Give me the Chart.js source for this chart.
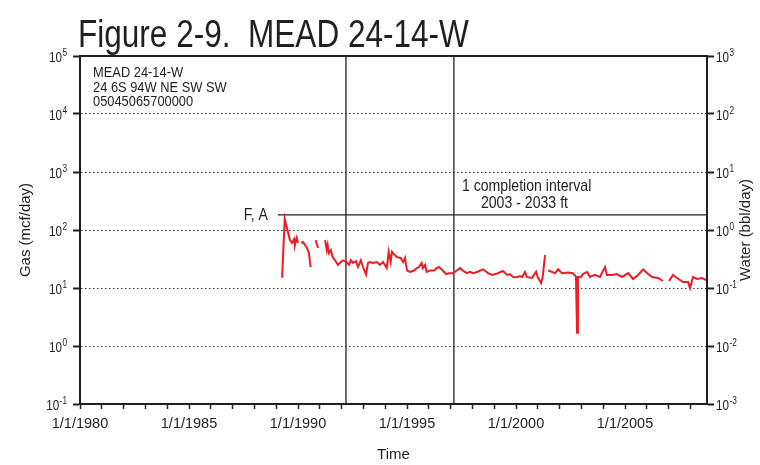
<!DOCTYPE html>
<html>
<head>
<meta charset="utf-8">
<script src="https://cdn.jsdelivr.net/npm/chart.js@4.4.1/dist/chart.umd.min.js"></script>
<style>
  html, body { margin: 0; padding: 0; background: #fff; }
</style>
</head>
<body>
<canvas id="chart" width="760" height="465"></canvas>
<script>
// gas rate (mcf/day), dates as decimal years, null = gap in record
const gasDate = [
  1989.27, 1989.39, 1989.63, 1989.72, 1989.82, 1989.86, 1989.94, 1990.00, 1990.05,
  1990.14, 1990.23, 1990.32, 1990.41, 1990.50, 1990.58, 1990.66,
  1990.81, 1990.92, 1991.05,
  1991.24, 1991.32, 1991.36, 1991.42, 1991.51, 1991.59, 1991.70, 1991.83, 1991.97,
  1992.06, 1992.23, 1992.34, 1992.42, 1992.52, 1992.66, 1992.75, 1992.88, 1992.98,
  1993.12, 1993.21, 1993.30, 1993.44, 1993.62, 1993.76, 1993.90, 1994.07, 1994.16,
  1994.25, 1994.31, 1994.44, 1994.54, 1994.71, 1994.82, 1994.91, 1995.00, 1995.14,
  1995.32, 1995.45, 1995.55, 1995.67, 1995.73, 1995.83, 1995.90, 1996.06, 1996.24,
  1996.36, 1996.47, 1996.64, 1996.79, 1996.93, 1997.11, 1997.28, 1997.43, 1997.56,
  1997.74, 1997.89, 1998.03, 1998.21, 1998.49, 1998.72, 1998.90, 1999.17, 1999.40,
  1999.59, 1999.72, 1999.86, 2000.05, 2000.18, 2000.28, 2000.41, 2000.50, 2000.73,
  2000.92, 2001.01, 2001.15, 2001.22, 2001.33, 2001.40,
  2001.47, 2001.65, 2001.79, 2001.93, 2002.11, 2002.39, 2002.61, 2002.75, 2002.80,
  2002.84, 2002.98, 2003.07, 2003.26, 2003.39, 2003.62, 2003.85, 2004.08, 2004.17,
  2004.40, 2004.63, 2004.86, 2005.14, 2005.37, 2005.60, 2005.83, 2006.06, 2006.24,
  2006.51, 2006.74, 2006.82,
  2007.02, 2007.20, 2007.39, 2007.66, 2007.89, 2007.98, 2008.12, 2008.30, 2008.53, 2008.72
];
const gasRate = [
  15, 155, 67, 60, 70, 55, 73, 60, null,
  60, 62, 55, 49, 40, 23, null,
  67, 49, null,
  67, 45, 55, 40, 45, 34, 30, 25, 28,
  30, 28, 25, 30, 27, 29, 23, 30, 23,
  17, 27, 28, 27, 28, 25, 28, 22, 42,
  28, 42, 37, 34, 33, 28, 33, 20, 19,
  20, 22, 23, 27, 22, 25, 19, 20, 20,
  22, 23, 20, 17.4, 18, 18, 20, 22, 20,
  18, 19, 18, 18.9, 21, 18, 16.8, 18, 19.6,
  16.8, 17.4, 15.5, 15.3, 16, 15.5, 18.9, 15.5, 14.9,
  19, 14.9, 12.2, 15, 37, null,
  20, 19, 18, 21, 18, 18.5, 18, 15.5, 1.7,
  15.5, 15.5, 17.4, 18.9, 15.5, 16.8, 15.5, 23, 16.8,
  16.8, 17.4, 15.5, 18.1, 14.3, 16.8, 21, 17.4, 15.5,
  14.9, 13.2, null,
  13.2, 16.8, 14.9, 12.7, 12.7, 10, 15.5, 14.3, 14.9, 13.7
];

// events
const completionDates = [1992.2, 1997.15];
const intervalStart = 1989.08;
const intervalRate = 182;

// axes
const timeMin = 1980;
const timeMax = 2008.76;
const yearTicks = [1980, 1981, 1982, 1983, 1984, 1985, 1986, 1987, 1988, 1989, 1990, 1991, 1992, 1993, 1994,
  1995, 1996, 1997, 1998, 1999, 2000, 2001, 2002, 2003, 2004, 2005, 2006, 2007, 2008];
const labelYears = [1980, 1985, 1990, 1995, 2000, 2005];
const gasTicks = [0.1, 1, 10, 100, 1000, 10000, 100000];
const waterTicks = [0.001, 0.01, 0.1, 1, 10, 100, 1000];

const wellInfo = ['MEAD 24-14-W', '24 6S 94W NE SW SW', '05045065700000'];
const intervalText = ['1 completion interval', '2003 - 2033 ft'];

const SANS = '"Liberation Sans", Arial, Helvetica, sans-serif';
const SQ = 0.83;   // horizontal squeeze to mimic the narrow face of the original
const INK = '#231f20';

function narrowText(ctx, text, x, y, size, align) {
  ctx.save();
  ctx.font = size + 'px ' + SANS;
  ctx.textAlign = align || 'left';
  ctx.translate(x, y);
  ctx.scale(SQ, 1);
  ctx.fillText(text, 0, 0);
  ctx.restore();
}

// "10" with a raised exponent, anchored left or right
function powLabel(ctx, v, x, y, align) {
  const exp = String(Math.round(Math.log10(v)));
  ctx.font = '14px ' + SANS;
  const wBase = ctx.measureText('10').width * SQ;
  ctx.font = '10px ' + SANS;
  const wExp = ctx.measureText(exp).width * SQ;
  const x0 = align === 'right' ? x - wBase - wExp - 0.5 : x;
  narrowText(ctx, '10', x0, y + 5.5, 14, 'left');
  narrowText(ctx, exp, x0 + wBase + 0.5, y, 10, 'left');
}

const notesPlugin = {
  id: 'notes',
  afterDraw(chart) {
    const { ctx, chartArea: a, scales } = chart;
    const xs = scales.x, ys = scales.y, ws = scales.y2;
    ctx.save();
    ctx.fillStyle = INK;
    ctx.textBaseline = 'alphabetic';

    narrowText(ctx, 'Figure 2-9.  MEAD 24-14-W', 78, 47, 38);

    wellInfo.forEach((t, i) => narrowText(ctx, t, a.left + 13, a.top + 21 + i * 14.5, 15.5));

    const lineY = ys.getPixelForValue(intervalRate);
    const cx = xs.getPixelForValue(completionDates[1]);
    narrowText(ctx, intervalText[0], cx + 8, lineY - 24, 17);
    narrowText(ctx, intervalText[1], cx + 27, lineY - 7, 17);
    narrowText(ctx, 'F, A', xs.getPixelForValue(intervalStart) - 10, lineY + 5, 17, 'right');

    // decade labels on both log axes
    ys.ticks.forEach(t => powLabel(ctx, t.value, a.left - 13, ys.getPixelForValue(t.value), 'right'));
    ws.ticks.forEach(t => powLabel(ctx, t.value, a.right + 9, ws.getPixelForValue(t.value), 'left'));

    // right axis title reads bottom-to-top
    ctx.translate(750, (a.top + a.bottom) / 2);
    ctx.rotate(-Math.PI / 2);
    ctx.textAlign = 'center';
    ctx.font = '15px ' + SANS;
    ctx.fillText('Water (bbl/day)', 0, 0);
    ctx.restore();
  }
};

new Chart(document.getElementById('chart'), {
  type: 'line',
  data: {
    datasets: [
      {
        label: 'Gas',
        data: gasDate.map((d, i) => ({ x: d, y: gasRate[i] })),
        borderColor: '#ed1c24', borderWidth: 2, pointRadius: 0, tension: 0, spanGaps: false,
        xAxisID: 'x', yAxisID: 'y'
      },
      ...completionDates.map(d => ({
        label: 'completion',
        data: [{ x: d, y: gasTicks[0] }, { x: d, y: gasTicks[gasTicks.length - 1] }],
        borderColor: INK, borderWidth: 1.3, pointRadius: 0, xAxisID: 'x', yAxisID: 'y'
      })),
      {
        label: 'interval',
        data: [{ x: intervalStart, y: intervalRate }, { x: timeMax, y: intervalRate }],
        borderColor: INK, borderWidth: 1.3, pointRadius: 0, xAxisID: 'x', yAxisID: 'y'
      }
    ]
  },
  options: {
    responsive: false, animation: false,
    layout: { padding: { top: 56, left: 0, right: 0, bottom: 0 } },
    plugins: { legend: { display: false }, tooltip: { enabled: false } },
    scales: {
      x: {
        type: 'linear', position: 'bottom', min: timeMin, max: timeMax,
        afterBuildTicks: s => { s.ticks = yearTicks.map(v => ({ value: v })); },
        afterFit: s => { s.height = 61; },
        ticks: { autoSkip: false, maxRotation: 0, padding: 6, color: INK, font: { family: SANS, size: 14.5 },
          callback: v => labelYears.includes(v) ? '1/1/' + v : '' },
        grid: { drawOnChartArea: false, drawTicks: true, tickLength: 5, tickWidth: 1.5, tickColor: INK },
        border: { width: 2, color: INK },
        title: { display: true, text: 'Time', color: INK, font: { family: SANS, size: 15 }, padding: { top: 0, bottom: 1 } }
      },
      x2: {
        type: 'linear', position: 'top', min: timeMin, max: timeMax, display: true,
        afterFit: s => { s.height = 0; },
        ticks: { display: false },
        grid: { drawOnChartArea: false, drawTicks: false },
        border: { width: 2, color: INK }
      },
      y: {
        type: 'logarithmic', position: 'left', min: gasTicks[0], max: gasTicks[gasTicks.length - 1],
        afterBuildTicks: s => { s.ticks = gasTicks.map(v => ({ value: v })); },
        afterFit: s => { s.width = 80; },
        ticks: { display: false },
        grid: {
          color: c => (c.tick && (c.tick.value === gasTicks[0] || c.tick.value === gasTicks[gasTicks.length - 1])) ? 'rgba(0,0,0,0)' : '#333',
          lineWidth: 1, drawTicks: true, tickLength: 7, tickWidth: 2, tickColor: INK
        },
        border: { width: 2, color: INK, dash: [1.5, 2.5] },
        title: { display: true, text: 'Gas (mcf/day)', color: INK, font: { family: SANS, size: 15 }, padding: { top: 17, bottom: 0 } }
      },
      y2: {
        type: 'logarithmic', position: 'right', min: waterTicks[0], max: waterTicks[waterTicks.length - 1],
        afterBuildTicks: s => { s.ticks = waterTicks.map(v => ({ value: v })); },
        afterFit: s => { s.width = 53; },
        ticks: { display: false },
        grid: { drawOnChartArea: false, drawTicks: true, tickLength: 7, tickWidth: 2, tickColor: INK },
        border: { width: 2, color: INK }
      }
    }
  },
  plugins: [notesPlugin]
});
</script>
</body>
</html>
